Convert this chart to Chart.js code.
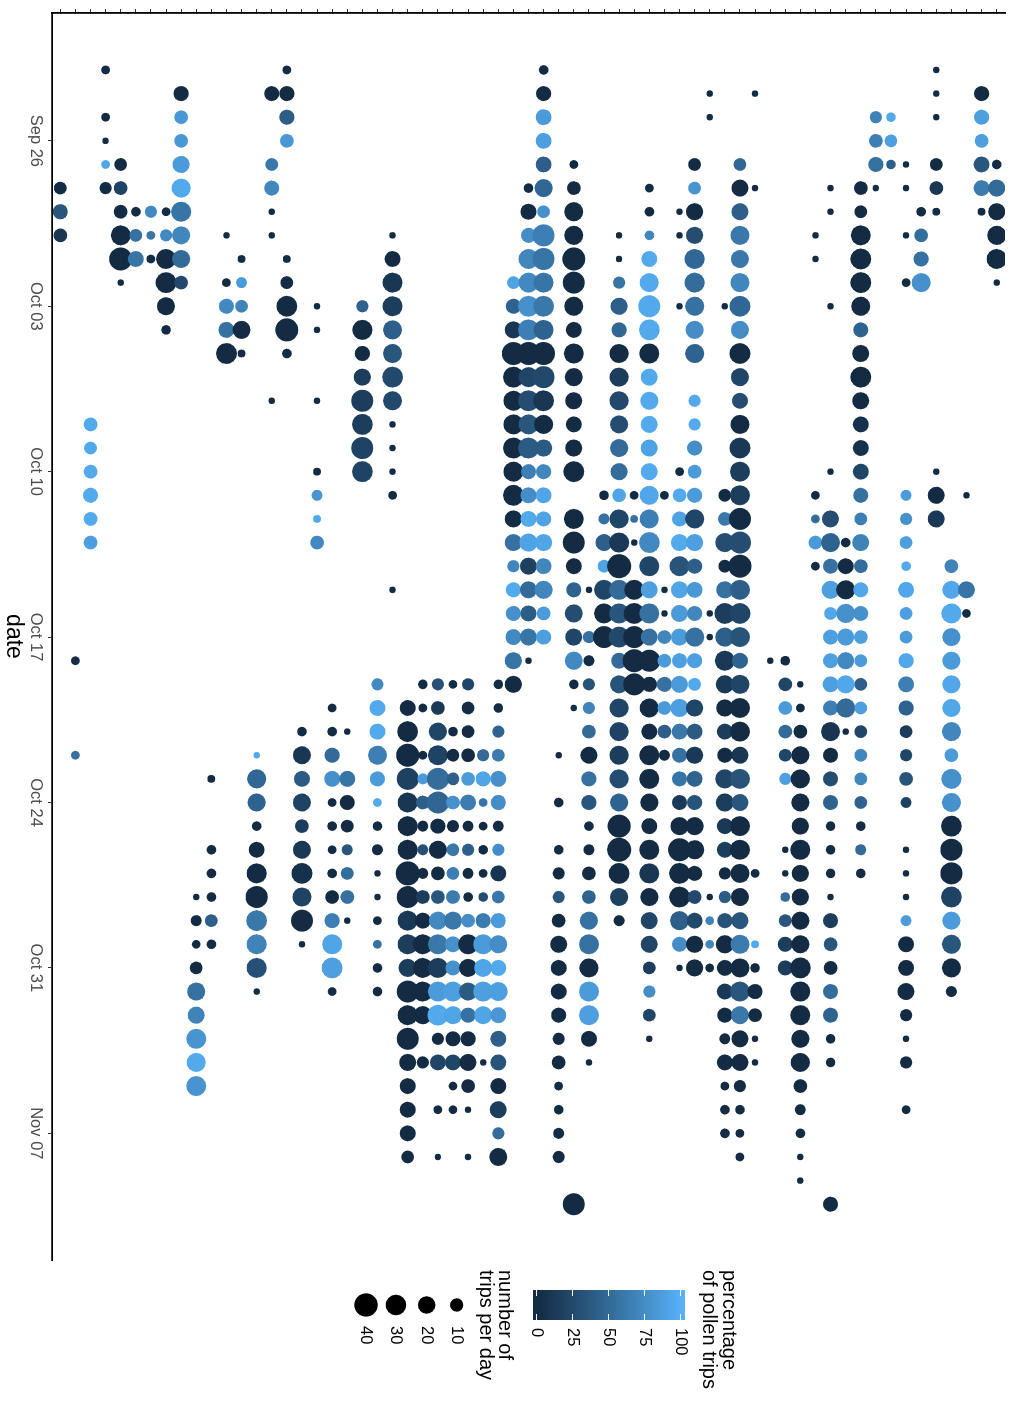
<!DOCTYPE html>
<html>
<head>
<meta charset="utf-8">
<title>Pollen trips per bee</title>
<script src="https://cdn.jsdelivr.net/npm/chart.js@4.4.1/dist/chart.umd.min.js"></script>
<style>
    html, body { margin: 0; padding: 0; background: #fff; overflow: hidden; }
    /* the chart is drawn landscape and turned a quarter clockwise, like the figure */
    #wrap {
        position: absolute; left: 0; top: 0;
        width: 1401px; height: 1012px;
        transform-origin: 0 0;
        transform: translate(1012px, 0) rotate(90deg);
    }
</style>
</head>
<body>
<div id="wrap"><canvas id="chart" width="1401" height="1012"></canvas></div>
<script>
(function(){
    "use strict";

    var _ = null;

    // first day each bee (one column per bee) was recorded, MM-DD
    var beeFirstDay = [
        "09-28","10-18","10-08","09-23","09-27","09-29","09-29","09-29","09-24","10-28",
        "10-23","09-30","10-01","10-22","09-24","09-23","10-21","10-03","10-20","10-21",
        "10-03","10-19","09-30","10-20","10-19","10-19","10-19","10-19","10-22","10-19",
        "10-02","09-28","09-23","10-22","09-27","10-15","10-11","09-30","10-11","09-28",
        "10-11","09-29","09-27","09-24","10-03","09-27","09-24","10-18","10-18","10-19",
        "09-30","09-28","10-13","09-28","09-25","09-25","09-27","09-29","09-23","10-14",
        "10-11","09-24","09-27"
    ];

    // number of trips per day, consecutive days from the first day (_ = no record)
    var beeTrips = [
        [9,14,11],
        [3,_,_,_,3],
        [11,9,11,14,11,11],
        [3,_,3,1,3,8],
        [9,11,11,28,39,1],
        [4,9,16],
        [8,3,3],
        [3,8,28,31,22,4],
        [14,11,11,19,25,28,22,22,11],
        [1,6,3,9,22,19,28,25,28],
        [2,_,_,4,4,4,9,4],
        [1,_,3,14,16,31],
        [2,6,9,22,2],
        [1,25,22,4,16,28,35,31,28,28,1],
        [14,_,_,9,14,1,1,_,_,_,_,_,_,1],
        [3,14,14,11,_,_,_,_,2,9,31,39,4],
        [4,22,16,22,11,22,31,25,35,1],
        [1,1,_,_,1,_,_,2,6,2,11],
        [3,4,14,16,3,4,3,4,11,14,28,31,3],
        [1,_,16,14,9,6,9,11,1],
        [8,28,14,19,35,31,35,31],
        [8,16,16,25,14,3,4,6,1,1,3,3,4,4],
        [1,16,28,28,25,25,31,25,1,1,1,3,_,_,_,1],
        [16,31,39,35,28,28,28,43,35,28,28,22,35,28,35,19,16,16,16,9],
        [4,3,_,3,6,11,6,6,6,11,16,28,28,28,22,_,8],
        [8,11,22,28,35,35,14,22,11,11,22,28,28,28,31,8,16,_,3,_,1],
        [3,_,4,9,9,11,8,9,9,11,22,16,14,28,22,14,16,3,3],
        [8,9,9,11,11,16,6,8,6,4,11,28,22,22,14,14,19,11,1,_,1],
        [8,14,3,3,4,3,4,14,28,22,28,22,_,1],
        [4,4,8,9,16,14,6,8,16,9,14,22,16,25,16,16,16,16,19,8,22],
        [9,14,19,39,31,28,28,31,28,31,19,19,8,14,14,16,19,19],
        [4,16,14,28,28,31,31,39,28,31,28,31,14,16,16,22,19,19,16,19,1],
        [4,14,16,16,16,22,9,35,35,28,31,28,39,35,31,25,19,14,16,14,19,16,22,11,14],
        [1,_,4,_,4,8,8,11,19,16,16,14,8,11,3,4,6,8],
        [3,11,25,25,39,35,25,16,28,22,19,16,19,31,_,28,35,16,14,22,19,22,4,1,
         _,_,_,_,_,_,_,_,_,_,_,_,_,_,_,_,_,_,_,_,35],
        [1,_,8,6,8,8,11,19,14,14,4,6,11,11,22,28,25,28,28,16,1],
        [4,6,19,9,28,28,35],
        [1,1,8,19,14,25,25,25,22,22,19,11,25,28,43,28,28,31,16,22,25,25,25,25,22,39,43,31,22,6],
        [3,2,1,_,28,31,35,39,35],
        [3,4,4,16,25,35,31,28,19,22,19,19,19,25,25,31,28,19,28,19,35,14,25,16,28,28,22,16,28,28,22,19,19,9,8,9,1],
        [3,_,_,_,1,1,11,11,14,11,11,6],
        [1,1,_,_,1,_,_,_,_,_,_,3,11,14,19,28,19,19,19,14,19,22,16,14,14,14,22,39,31,31,25,14,1],
        [9,9,19,19,28,28,25,22,25,_,8,8,14,11,14,25,19,14,16,14,25,14,9,19,16,19,16,14,22,25,14,11,16,19,19],
        [1,1,_,_,_,_,_,_,_,_,_,_,_,_,_,_,_,_,_,_,_,_,1,1,_,_,_,_,_,_,_,_,_,_,1,3,3,3],
        [1,_,_,_,_,_,_,_,9,11,25,9,19,31,25,28,22,19,16,14,25,22,16,16,8,8,14,22,16,16,14,6,16,3,4,4],
        [9,19,19,25,22,25,31,22,31,22,16,25,31,28,28,35,35,39,28,31,28,16,25,28,28,19,28,19,28,28,25,22,19,25,25,28,22,19,19,8,4,3,3],
        [1,_,_,_,1,_,_,_,_,_,_,_,_,_,_,_,_,_,_,_,_,_,_,_,_,_,_,_,_,_,_,_,_,3,_,_,2,4,14,11,1,1],
        [1],
        [4,11,11,11,9,8,_,_,1,1,4,9,14,14],
        [1,3,11,22,25,22,19,28,19,19,22,22,31,28,28,22,25,11,6,4,1,1],
        [1,1,_,_,_,_,_,_,_,_,_,3,3,11,3],
        [1,1,_,_,_,1,_,_,_,_,_,_,1,_,19,25,14,22,9,14,14,16,14,25,14,14,14,4,4,4,1,14,11,11,14,14,4,4,_,_,_,_,_,14],
        [4,16,25,25,19,19,22,25,1],
        [11,9,28,31,31,25,14,19,31,19,16,16,16,14,9,19,11,14,14,11,9,9,9,9,9,9,9,4,6,4],
        [8,11,14,1],
        [4,9,4],
        [1,1,_,1,_,3,_,_,_,_,_,_,_,_,6,8,9,4,16,9,9,14,16,14,9,8,11,6,_,1,1,1,6,16,16,19,8,1,8,_,3],
        [4,11,14,25],
        [1,1,1,_,9,11,2,_,_,_,_,_,_,_,_,_,_,1,19,19],
        [11,22,28,22,22,22,22,25,11,28,25,31,35,35,31,22,25,25,6],
        [1,_,_,_,19,3],
        [14,14,11,16,16,2],
        [4,19,19,25,28,1]
    ];

    // percentage of pollen trips, same layout as beeTrips
    var beePollen = [
        [0,35,10],
        [0,_,_,_,55],
        [95,95,95,95,95,88],
        [0,_,0,0,92,0],
        [0,20,0,0,0,0],
        [0,55,58],
        [72,58,0],
        [0,72,0,0,0,0],
        [0,82,82,85,95,58,70,50,25],
        [0,0,0,0,55,68,80,95,80],
        [0,_,_,0,0,0,42,0],
        [0,_,0,72,55,0],
        [0,85,68,0,0],
        [95,48,45,0,0,0,0,60,68,30,0],
        [0,_,_,60,70,0,0,_,_,_,_,_,_,0],
        [0,0,40,82,_,_,_,_,0,0,0,0,0],
        [0,10,38,20,15,12,5,20,0,0],
        [0,0,_,_,0,_,_,0,80,95,72],
        [0,0,50,78,0,0,0,0,0,65,92,88,0],
        [0,_,58,0,0,35,52,55,0],
        [45,0,0,15,15,15,20,20],
        [72,95,95,65,85,95,0,0,0,0,0,55,0,0],
        [0,0,10,15,42,35,25,25,0,0,0,0,_,_,_,0],
        [0,0,0,18,10,0,0,0,0,12,15,15,0,0,0,0,0,0,0,0],
        [0,0,_,0,85,42,0,30,0,15,0,0,0,0,0,_,0],
        [30,12,22,20,52,47,0,0,0,35,72,60,15,85,95,0,22,_,0,_,0],
        [0,_,0,0,42,78,0,60,65,62,60,78,78,88,92,0,22,0,0],
        [22,0,0,0,85,63,0,42,0,0,75,0,0,38,55,0,0,0,0,_,0],
        [50,92,58,0,0,0,28,62,85,92,88,92,_,0],
        [0,0,45,62,78,75,0,75,8,60,85,75,95,88,82,42,33,0,15,52,0],
        [90,45,10,0,0,0,0,0,0,0,0,55,70,95,78,72,58,0],
        [0,0,75,70,72,78,65,0,22,28,35,38,65,75,95,90,18,50,40,58,0],
        [0,0,85,88,42,48,78,65,58,58,60,45,0,25,10,0,38,70,92,90,92,70,70,85,88],
        [0,_,0,_,0,0,35,0,0,0,0,0,0,0,0,0,0,0],
        [0,0,0,0,0,0,0,0,0,0,0,0,0,0,_,0,0,0,45,28,22,72,0,0,
         _,_,_,_,_,_,_,_,_,_,_,_,_,_,_,_,_,_,_,_,0],
        [0,_,55,0,33,68,50,0,55,35,0,0,0,45,55,55,0,85,88,0,0],
        [0,55,42,90,22,0,0],
        [0,0,58,42,48,0,15,25,28,50,52,92,22,12,0,50,35,25,50,33,22,20,15,28,45,0,0,0,18,0],
        [0,55,0,_,0,0,0,0,0],
        [0,0,70,95,95,95,95,0,95,95,95,90,95,93,65,72,22,88,55,55,0,0,0,0,0,0,0,0,0,10,0,22,22,15,75,22,0],
        [0,_,_,_,0,0,70,85,55,85,42,0],
        [0,0,_,_,0,_,_,_,_,_,_,0,95,90,95,33,92,85,85,88,85,88,60,55,58,12,0,0,0,0,42,75,0],
        [0,80,0,28,48,52,55,75,45,_,95,95,75,85,85,22,88,42,82,70,55,88,95,22,38,12,45,33,0,0,0,25,25,0,0],
        [0,0,_,_,_,_,_,_,_,_,_,_,_,_,_,_,_,_,_,_,_,_,0,0,_,_,_,_,_,_,_,_,_,_,0,68,70,0],
        [0,_,_,_,_,_,_,_,0,60,28,0,55,15,42,12,12,0,15,0,22,15,12,15,0,38,33,0,0,12,0,0,0,0,0,0],
        [48,0,42,60,60,70,48,75,0,22,28,0,12,15,15,0,28,0,42,22,33,45,22,0,0,10,33,35,0,0,0,0,35,62,0,35,60,0,0,0,0,0,0],
        [0,_,_,_,0,_,_,_,_,_,_,_,_,_,_,_,_,_,_,_,_,_,_,_,_,_,_,_,_,_,_,_,_,0,_,_,95,0,0,0,0,0],
        [0],
        [0,22,85,50,22,88,_,_,0,0,52,35,15,15],
        [0,0,0,0,0,0,0,0,0,0,0,0,0,0,0,0,0,0,0,0,0,0],
        [0,0,_,_,_,_,_,_,_,_,_,0,52,85,0],
        [0,0,_,_,_,0,_,_,_,_,_,_,0,_,28,45,55,88,93,88,88,88,65,8,0,28,45,0,0,0,0,15,35,0,52,45,0,0,_,_,_,_,_,0],
        [0,0,0,78,85,72,93,50,0],
        [0,0,0,0,0,0,45,0,0,0,5,5,22,55,65,68,52,93,78,88,85,42,88,22,70,70,45,0,50,0],
        [68,65,55,0],
        [95,88,42],
        [0,0,_,0,_,0,_,_,_,_,_,_,_,_,85,78,88,95,93,88,85,93,65,45,15,22,33,20,_,0,0,0,85,0,0,0,0,0,0,_,0],
        [0,52,55,78],
        [0,0,0,_,0,10,0,_,_,_,_,_,_,_,_,_,_,0,0,12],
        [68,93,95,78,85,93,93,70,85,78,78,0,0,0,20,85,35,0,0],
        [0,_,_,_,58,0],
        [0,88,88,35,62,0],
        [0,50,0,0,0,0]
    ];

    var dateTicks = ["09-26","10-03","10-10","10-17","10-24","10-31","11-07"];
    var dateTickLabels = ["Sep 26","Oct 03","Oct 10","Oct 17","Oct 24","Oct 31","Nov 07"];
    var pollenBreaks = [0, 25, 50, 75, 100];
    var tripBreaks = [10, 20, 30, 40];

    var LOW = "#132B43", HIGH = "#56B1F7";
    var FONT = "'Liberation Sans', Arial, Helvetica, sans-serif";

    // days since Sep 22
    function dayIndex(md) {
        var p = md.split("-");
        return Math.round((Date.UTC(2017, +p[0] - 1, +p[1]) - Date.UTC(2017, 8, 22)) / 86400000);
    }

    // ---- colour scale, interpolated in Lab like ggplot's gradient ----
    function toLin(c) { c /= 255; return c <= 0.04045 ? c / 12.92 : Math.pow((c + 0.055) / 1.055, 2.4); }
    function fromLin(c) {
        c = c <= 0.0031308 ? 12.92 * c : 1.055 * Math.pow(c, 1 / 2.4) - 0.055;
        return Math.round(Math.max(0, Math.min(1, c)) * 255);
    }
    function hexToLab(h) {
        var r = toLin(parseInt(h.slice(1, 3), 16)), g = toLin(parseInt(h.slice(3, 5), 16)), b = toLin(parseInt(h.slice(5, 7), 16));
        var x = (r * 0.4124 + g * 0.3576 + b * 0.1805) / 0.95047;
        var y = r * 0.2126 + g * 0.7152 + b * 0.0722;
        var z = (r * 0.0193 + g * 0.1192 + b * 0.9505) / 1.08883;
        var f = function(t) { return t > 0.008856 ? Math.cbrt(t) : 7.787 * t + 16 / 116; };
        return [116 * f(y) - 16, 500 * (f(x) - f(y)), 200 * (f(y) - f(z))];
    }
    function labToCss(lab) {
        var fy = (lab[0] + 16) / 116, fx = fy + lab[1] / 500, fz = fy - lab[2] / 200;
        var inv = function(t) { var t3 = t * t * t; return t3 > 0.008856 ? t3 : (t - 16 / 116) / 7.787; };
        var x = inv(fx) * 0.95047, y = inv(fy), z = inv(fz) * 1.08883;
        var r = x * 3.2406 - y * 1.5372 - z * 0.4986;
        var g = -x * 0.9689 + y * 1.8758 + z * 0.0415;
        var b = x * 0.0557 - y * 0.2040 + z * 1.0570;
        return "rgb(" + fromLin(r) + "," + fromLin(g) + "," + fromLin(b) + ")";
    }
    var labLow = hexToLab(LOW), labHigh = hexToLab(HIGH);

    function pollenColour(pct) {
        var t = Math.max(0, Math.min(1, pct / 100));
        return labToCss([
            labLow[0] + (labHigh[0] - labLow[0]) * t,
            labLow[1] + (labHigh[1] - labLow[1]) * t,
            labLow[2] + (labHigh[2] - labLow[2]) * t
        ]);
    }

    function tripRadius(n) {
        return (3.3 + 3.16 * Math.sqrt(n)) / 2;
    }

    // ---- build the bubble points ----
    var points = [];
    for(var b = 0; b < beeTrips.length; b++) {
        var start = dayIndex(beeFirstDay[b]);
        for(var i = 0; i < beeTrips[b].length; i++) {
            if(beeTrips[b][i] === null) {
                continue;
            }
            points.push({
                x: start + i,
                y: b,
                r: tripRadius(beeTrips[b][i]),
                pollen: beePollen[b][i]
            });
        }
    }

    var tickDays = dateTicks.map(dayIndex);

    // legends (colour bar and size keys), drawn in chart pixel space
    var legendPlugin = {
        id: "pollenLegend",
        afterDraw: function(chart) {
            var ctx = chart.ctx;
            ctx.save();

            // colour bar
            var barX = 1290, barW = 30, barTop = 327, barBottom = 479;
            var zeroY = 475.3, pxPerUnit = 1.44;
            var grad = ctx.createLinearGradient(0, barBottom, 0, barTop);
            for(var k = 0; k <= 30; k++) {
                var y = barBottom - (barBottom - barTop) * k / 30;
                grad.addColorStop(k / 30, pollenColour((zeroY - y) / pxPerUnit));
            }
            ctx.fillStyle = grad;
            ctx.fillRect(barX, barTop, barW, barBottom - barTop);

            ctx.strokeStyle = "#ffffff";
            ctx.lineWidth = 1;
            ctx.fillStyle = "#000";
            ctx.font = "16.5px " + FONT;
            ctx.textAlign = "left";
            ctx.textBaseline = "middle";
            pollenBreaks.forEach(function(v) {
                var ty = Math.round(zeroY - v * pxPerUnit) + 0.5;
                ctx.beginPath();
                ctx.moveTo(barX, ty); ctx.lineTo(barX + 6, ty);
                ctx.moveTo(barX + barW - 6, ty); ctx.lineTo(barX + barW, ty);
                ctx.stroke();
                ctx.fillText(String(v), 1328, ty);
            });

            ctx.font = "20px " + FONT;
            ctx.textBaseline = "alphabetic";
            ctx.fillText("percentage", 1270, 288.5);
            ctx.fillText("of pollen trips", 1270, 308.5);

            // size keys
            ctx.fillText("number of", 1270, 512.5);
            ctx.fillText("trips per day", 1270, 532);

            var keyY = {10: 555.3, 20: 585.3, 30: 616, 40: 646};
            ctx.font = "16.5px " + FONT;
            ctx.textBaseline = "middle";
            tripBreaks.forEach(function(v) {
                ctx.fillStyle = "#000";
                ctx.beginPath();
                ctx.arc(1305, keyY[v], tripRadius(v), 0, Math.PI * 2);
                ctx.fill();
                ctx.fillText(String(v), 1326, keyY[v]);
            });

            ctx.restore();
        }
    };

    new Chart(document.getElementById("chart"), {
        type: "bubble",
        data: {
            datasets: [{
                data: points,
                backgroundColor: function(c) {
                    return c.raw ? pollenColour(c.raw.pollen) : LOW;
                },
                borderWidth: 0,
                hoverBorderWidth: 0
            }]
        },
        options: {
            responsive: false,
            devicePixelRatio: 1,
            animation: false,
            events: [],
            layout: {
                autoPadding: false,
                padding: {top: 7, right: 141, left: 0, bottom: 0}
            },
            plugins: {
                legend: {display: false},
                tooltip: {enabled: false}
            },
            scales: {
                x: {
                    type: "linear",
                    position: "bottom",
                    min: -1.41,
                    max: 51.36,
                    afterBuildTicks: function(scale) {
                        scale.ticks = tickDays.map(function(d) { return {value: d}; });
                    },
                    afterFit: function(scale) { scale.height = 52; },
                    ticks: {
                        autoSkip: false,
                        maxRotation: 0,
                        padding: 3,
                        color: "#4d4d4d",
                        font: {family: FONT, size: 16.5},
                        callback: function(v) {
                            var idx = tickDays.indexOf(v);
                            return idx >= 0 ? dateTickLabels[idx] : "";
                        }
                    },
                    grid: {
                        drawOnChartArea: false,
                        drawTicks: true,
                        tickLength: 4,
                        color: "#333333",
                        lineWidth: 1
                    },
                    border: {display: true, color: "#000", width: 1.8},
                    title: {
                        display: true,
                        text: "date",
                        color: "#000",
                        font: {family: FONT, size: 23},
                        padding: {top: 0, bottom: 0}
                    }
                },
                y: {
                    type: "linear",
                    position: "left",
                    min: -0.55,
                    max: 62.55,
                    afterBuildTicks: function(scale) {
                        var t = [];
                        for(var j = 0; j < beeTrips.length; j++) {
                            t.push({value: j});
                        }
                        scale.ticks = t;
                    },
                    afterFit: function(scale) { scale.width = 13; },
                    ticks: {display: false},
                    grid: {
                        drawOnChartArea: false,
                        drawTicks: true,
                        tickLength: 4,
                        color: "#333333",
                        lineWidth: 1
                    },
                    border: {display: true, color: "#000", width: 1.8}
                }
            }
        },
        plugins: [legendPlugin]
    });

})();
</script>
</body>
</html>
